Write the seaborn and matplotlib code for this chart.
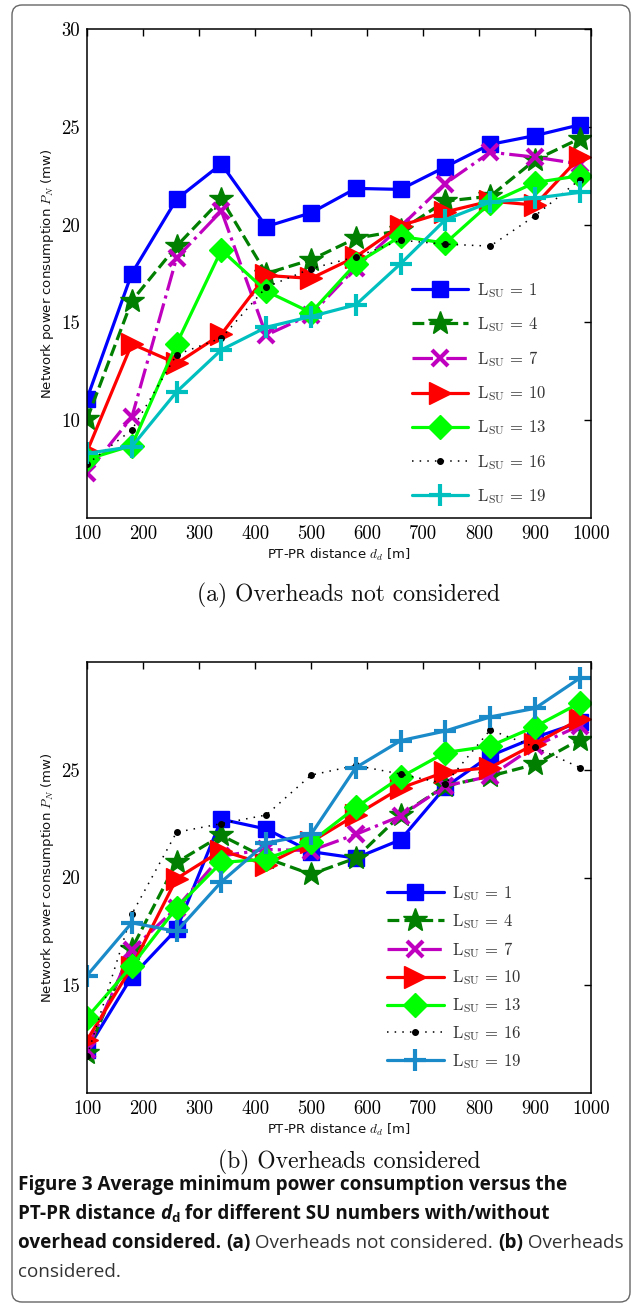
import numpy as np
import pandas as pd
import matplotlib
matplotlib.use("Agg")
import matplotlib.pyplot as plt
import seaborn as sns
from matplotlib.patches import FancyBboxPatch
from matplotlib.transforms import IdentityTransform

# ---------------- data ----------------
distance = [100, 180, 260, 340, 420, 500, 580, 660, 740, 820, 900, 980]
su_numbers = [1, 4, 7, 10, 13, 16, 19]

# (a) overheads not considered
a_L1 = [11.1, 17.5, 21.3, 23.1, 19.9, 20.6, 21.85, 21.8, 22.95, 24.1, 24.55, 25.1]
a_L4 = [10.05, 16.1, 18.9, 21.3, 17.5, 18.2, 19.3, 19.7, 21.2, 21.45, 23.3, 24.4]
a_L7 = [7.3, 10.15, 18.3, 20.7, 14.35, 15.4, 17.8, 19.9, 22.1, 23.7, 23.45, 23.1]
a_L10 = [8.4, 13.9, 12.9, 14.4, 17.4, 17.25, 18.35, 19.95, 20.65, 21.2, 21.0, 23.45]
a_L13 = [8.0, 8.7, 13.9, 18.7, 16.6, 15.5, 18.0, 19.4, 19.05, 21.1, 22.15, 22.5]
a_L16 = [7.75, 9.5, 13.35, 14.2, 16.8, 17.75, 18.35, 19.2, 19.0, 18.9, 20.45, 22.3]
a_L19 = [8.3, 8.65, 11.45, 13.6, 14.75, 15.3, 15.9, 18.0, 20.25, 21.15, 21.35, 21.65]

# (b) overheads considered
b_L1 = [12.0, 15.4, 17.6, 22.7, 22.25, 21.2, 20.9, 21.75, 24.2, 25.65, 26.5, 27.2]
b_L4 = [11.85, 16.7, 20.7, 21.95, 20.9, 20.15, 20.9, 22.9, 24.25, 24.7, 25.25, 26.4]
b_L7 = [12.0, 16.65, 18.6, 21.0, 21.3, 21.25, 22.0, 22.85, 24.25, 24.7, 26.1, 27.05]
b_L10 = [12.45, 15.85, 19.95, 21.25, 20.6, 21.65, 22.9, 24.15, 24.9, 25.1, 26.2, 27.35]
b_L13 = [13.5, 15.9, 18.6, 20.7, 20.85, 21.65, 23.25, 24.65, 25.8, 26.1, 27.0, 28.1]
b_L16 = [11.7, 18.3, 22.1, 22.5, 22.9, 24.75, 25.2, 24.8, 24.35, 26.85, 26.05, 25.1]
b_L19 = [15.45, 17.9, 17.5, 19.8, 21.6, 22.0, 25.1, 26.35, 26.8, 27.45, 27.85, 29.25]

x_ticks = [100, 200, 300, 400, 500, 600, 700, 800, 900, 1000]
a_y_ticks = [10, 15, 20, 25, 30]
b_y_ticks = [15, 20, 25]

series_a = [a_L1, a_L4, a_L7, a_L10, a_L13, a_L16, a_L19]
series_b = [b_L1, b_L4, b_L7, b_L10, b_L13, b_L16, b_L19]

# ---------------- style ----------------
sns.set_theme(style="white")
plt.rcParams["font.family"] = ["DejaVu Sans"]
plt.rcParams["mathtext.fontset"] = "cm"

LW = 2.3
base_styles = [
    dict(color="#0000ff", linestyle="-", marker="s", markersize=12, markeredgewidth=1),
    dict(color="#007f00", linestyle="--", marker="*", markersize=18, markeredgewidth=1),
    dict(color="#bf00bf", linestyle="-.", marker="x", markersize=11, markeredgewidth=3),
    dict(color="#ff0000", linestyle="-", marker=">", markersize=16, markeredgewidth=1),
    dict(color="#00ff00", linestyle="-", marker="D", markersize=12, markeredgewidth=1),
    dict(color="#000000", linestyle=(0, (1, 4)), marker=".", markersize=8, markeredgewidth=1, linewidth=1.1),
    dict(color="#00bfbf", linestyle="-", marker="+", markersize=16, markeredgewidth=3),
]

W, H = 637, 1304
fig = plt.figure(figsize=(W / 100, H / 100), dpi=100)
fig.patch.set_facecolor("white")


def px_axes(left, top, right, bottom):
    return fig.add_axes([left / W, 1 - bottom / H, (right - left) / W, (bottom - top) / H])


ax_a = px_axes(87, 29, 591, 518)
ax_b = px_axes(87, 662, 591, 1093)


def draw(ax, series, last_color, ylim, yticks, leg_anchor, leg_spacing):
    for i, (n, vals) in enumerate(zip(su_numbers, series)):
        st = dict(base_styles[i])
        if i == 6:
            st["color"] = last_color
        c = st["color"]
        lw = st.pop("linewidth", LW)
        df = pd.DataFrame({"d": distance, "p": vals})
        sns.lineplot(data=df, x="d", y="p", ax=ax, estimator=None, sort=False,
                     linewidth=lw, markeredgecolor=c, markerfacecolor=c,
                     label=r"$\mathrm{L}_{\mathrm{SU}}\,=\," + str(n) + "$", **st)
    ax.set_xlim(100, 1000)
    ax.set_ylim(*ylim)
    ax.set_xticks(x_ticks)
    ax.set_yticks(yticks)
    ax.set_xticklabels([str(t) for t in x_ticks])
    ax.set_yticklabels([str(t) for t in yticks])
    for lab in ax.get_xticklabels() + ax.get_yticklabels():
        lab.set_fontfamily("cmr10")
        lab.set_fontsize(13.5)
        lab.set_color("#111111")
    ax.tick_params(direction="in", top=True, right=True, length=5, width=1,
                   colors="black", pad=5)
    for sp in ax.spines.values():
        sp.set_color("black")
        sp.set_linewidth(1.1)
    ax.set_xlabel(r"PT-PR distance $d_d$ [m]", fontsize=9.5, labelpad=3, color="#111111")
    ax.set_ylabel(r"Network power consumption $P_N$ (mw)", fontsize=9.5, labelpad=4,
                  color="#111111")
    leg = ax.legend(loc="center left", bbox_to_anchor=leg_anchor, frameon=False,
                    fontsize=12, handlelength=3.4, handletextpad=0.5,
                    labelspacing=leg_spacing, borderpad=0, borderaxespad=0)
    for t in leg.get_texts():
        t.set_color("#333333")


draw(ax_a, series_a, "#00bfbf", (5, 30), a_y_ticks, (0.644, 0.255), 0.92)
draw(ax_b, series_b, "#1a8ac8", (10, 30), b_y_ticks, (0.595, 0.268), 0.54)

# sub-captions
fig.text(349 / W, 1 - 595 / H, "(a) Overheads not considered", family="cmr10",
         fontsize=17, ha="center", va="center", color="#111111")
fig.text(349 / W, 1 - 1162 / H, "(b) Overheads considered", family="cmr10",
         fontsize=17, ha="center", va="center", color="#111111")

# frame
frame = FancyBboxPatch((12, 2), 618, 1297, boxstyle="round,pad=0,rounding_size=10",
                       transform=IdentityTransform(), fill=False, edgecolor="#666666",
                       linewidth=1.0)
fig.patches.append(frame)

# figure caption
fig.canvas.draw()
renderer = fig.canvas.get_renderer()
CAP_FONT = "Open Sans"
CAP_SIZE = 13.6
BOLD = dict(family=CAP_FONT, fontweight="bold", fontsize=CAP_SIZE, color="#111111")
NORM = dict(family=CAP_FONT, fontweight="normal", fontsize=CAP_SIZE, color="#333333")
BOLDIT = dict(BOLD, fontstyle="italic")
SUB = dict(BOLD, fontsize=CAP_SIZE * 0.7)

lines = [
    (1190, [("Figure 3 Average minimum power consumption versus the", BOLD, 0)]),
    (1219, [("PT-PR distance ", BOLD, 0), ("d", BOLDIT, 0), ("d", SUB, -3),
            (" for different SU numbers with/without", BOLD, 0)]),
    (1248, [("overhead considered. ", BOLD, 0), ("(a)", BOLD, 0),
            (" Overheads not considered. ", NORM, 0), ("(b)", BOLD, 0),
            (" Overheads", NORM, 0)]),
    (1277, [("considered.", NORM, 0)]),
]
for y_top, segs in lines:
    x = 18
    for txt, kw, dy in segs:
        t = fig.text(x, H - y_top + dy, txt, transform=IdentityTransform(),
                     ha="left", va="baseline", **kw)
        bb = t.get_window_extent(renderer)
        x = bb.x1

fig.savefig("out.png", dpi=100, facecolor="white")
